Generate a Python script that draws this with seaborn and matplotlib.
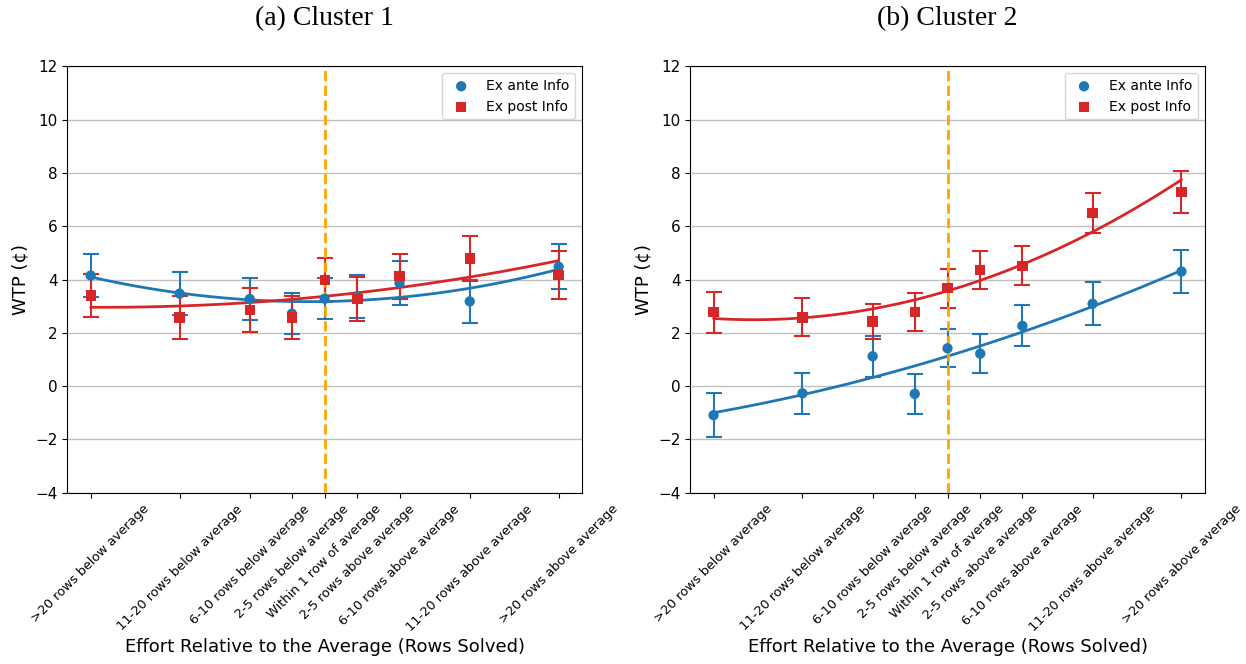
import matplotlib
matplotlib.use("Agg")
import matplotlib.pyplot as plt
import numpy as np
import seaborn as sns

# x positions (midpoints of effort bins, rows relative to average)
effort_x = [-25, -15.5, -8, -3.5, 0, 3.5, 8, 15.5, 25]
effort_labels = [
    ">20 rows below average",
    "11-20 rows below average",
    "6-10 rows below average",
    "2-5 rows below average",
    "Within 1 row of average",
    "2-5 rows above average",
    "6-10 rows above average",
    "11-20 rows above average",
    ">20 rows above average",
]

# Cluster 1
c1_ante = [4.15, 3.47, 3.27, 2.72, 3.28, 3.37, 3.87, 3.18, 4.48]
c1_ante_err = [0.80, 0.81, 0.79, 0.77, 0.76, 0.81, 0.81, 0.82, 0.84]
c1_post = [3.40, 2.58, 2.87, 2.57, 3.97, 3.27, 4.12, 4.79, 4.17]
c1_post_err = [0.82, 0.82, 0.83, 0.81, 0.83, 0.82, 0.85, 0.86, 0.90]

# Cluster 2
c2_ante = [-1.09, -0.27, 1.12, -0.29, 1.42, 1.22, 2.26, 3.09, 4.30]
c2_ante_err = [0.82, 0.76, 0.76, 0.74, 0.71, 0.72, 0.77, 0.80, 0.82]
c2_post = [2.77, 2.58, 2.42, 2.77, 3.67, 4.36, 4.52, 6.50, 7.29]
c2_post_err = [0.76, 0.71, 0.67, 0.71, 0.73, 0.70, 0.73, 0.75, 0.79]

BLUE = "#1f77b4"
RED = "#d62728"

sns.set_style("ticks")
plt.rcParams.update({"font.family": ["DejaVu Sans"],
                     "axes.edgecolor": "black", "xtick.color": "black",
                     "ytick.color": "black", "text.color": "black",
                     "axes.labelcolor": "black"})

fig, axes = plt.subplots(1, 2, figsize=(12.46, 6.64), dpi=100)

panels = [
    ("(a) Cluster 1", c1_ante, c1_ante_err, c1_post, c1_post_err),
    ("(b) Cluster 2", c2_ante, c2_ante_err, c2_post, c2_post_err),
]

for ax, (title, ante, ante_err, post, post_err) in zip(axes, panels):
    ax.yaxis.grid(True, color="#c0c0c0", linewidth=1.0)
    ax.set_axisbelow(True)

    # error bars
    ax.errorbar(effort_x, ante, yerr=ante_err, fmt="none", ecolor=BLUE,
                elinewidth=1.5, capsize=6, capthick=1.5, zorder=2)
    ax.errorbar(effort_x, post, yerr=post_err, fmt="none", ecolor=RED,
                elinewidth=1.5, capsize=6, capthick=1.5, zorder=2)

    # quadratic fits
    sns.regplot(x=effort_x, y=ante, order=2, scatter=False, ci=None,
                color=BLUE, line_kws={"linewidth": 2, "zorder": 3}, ax=ax)
    sns.regplot(x=effort_x, y=post, order=2, scatter=False, ci=None,
                color=RED, line_kws={"linewidth": 2, "zorder": 3}, ax=ax)

    # points
    sns.scatterplot(x=effort_x, y=ante, color=BLUE, marker="o", s=55,
                    edgecolor="none", label="Ex ante Info", zorder=4, ax=ax)
    sns.scatterplot(x=effort_x, y=post, color=RED, marker="s", s=55,
                    edgecolor="none", label="Ex post Info", zorder=4, ax=ax)

    ax.axvline(0, color="orange", linestyle="--", linewidth=2, zorder=3)

    ax.set_ylim(-4, 12)
    ax.set_yticks(range(-4, 13, 2))
    ax.set_xlim(-27.5, 27.5)
    ax.set_xticks(effort_x)
    ax.set_xticklabels(effort_labels, rotation=45, ha="center", fontsize=9.3)
    ax.tick_params(axis="y", labelsize=11)
    for s in ax.spines.values():
        s.set_visible(True)
        s.set_color("black")

    ax.set_xlabel("Effort Relative to the Average (Rows Solved)", fontsize=13,
                  labelpad=3)
    ax.set_ylabel("WTP (¢)", fontsize=13)
    ax.set_title(title, fontsize=20, family="Liberation Serif", pad=30)
    ax.legend(loc="upper right", fontsize=10, frameon=True)

fig.subplots_adjust(left=0.054, right=0.967, top=0.9, bottom=0.258, wspace=0.21)
fig.savefig("out.png", dpi=100)
